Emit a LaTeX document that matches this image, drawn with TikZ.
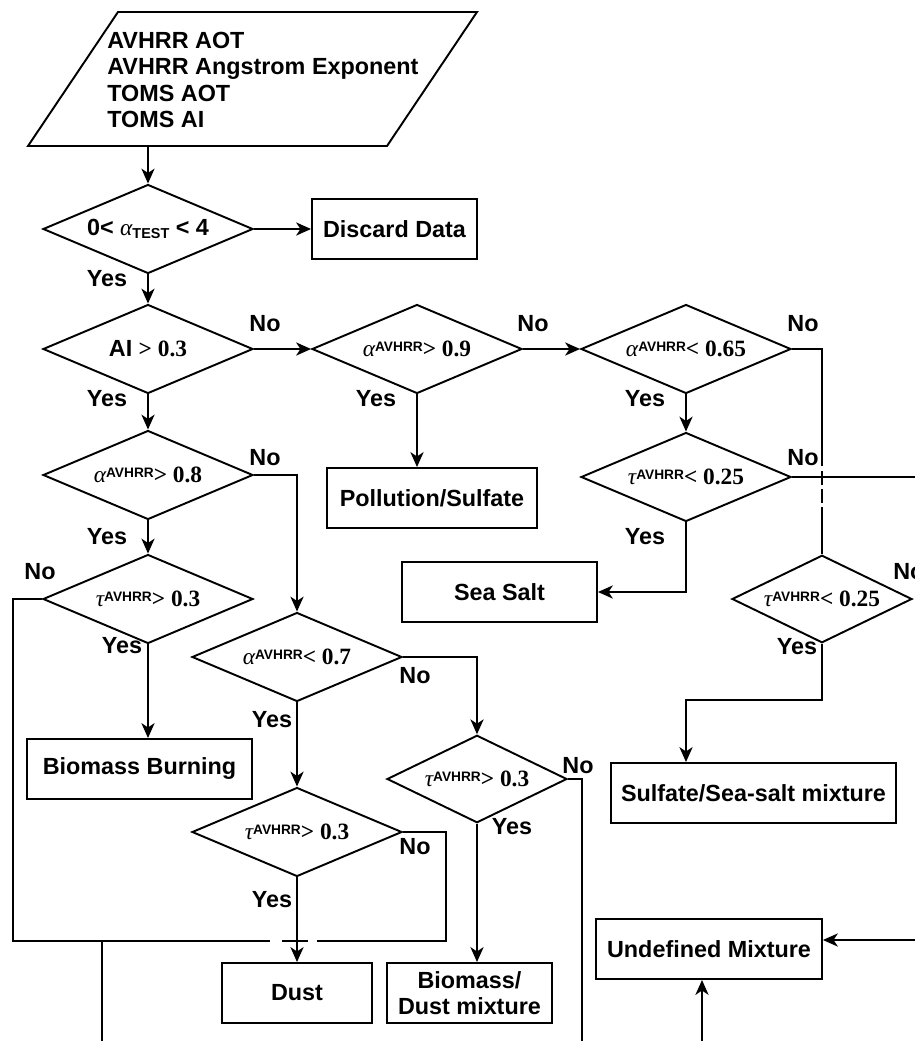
\documentclass[tikz,border=0pt]{standalone}
\usepackage{fontspec}
\setmainfont{Liberation Sans}
\newfontfamily\serf{Liberation Serif}
\usetikzlibrary{shapes.geometric,arrows.meta}
\newcommand{\gr}[1]{{\serf\mdseries\itshape #1}}
\newcommand{\nm}[1]{{\serf #1}}
\newcommand{\av}{\raisebox{3pt}{\fontsize{7.8}{8}\selectfont AVHRR}}
\newcommand{\tst}{\raisebox{-1.5pt}{\fontsize{8.2}{9}\selectfont TEST}}
\tikzset{
    dec/.style={diamond, draw, line width=1.1pt, aspect=2.36, inner sep=0pt, minimum width=4.2cm, minimum height=1.78cm},
    decn/.style={dec, aspect=2.05, minimum width=3.6cm, minimum height=1.75cm},
    res/.style={draw, line width=1.1pt, minimum height=1.2cm, align=center},
    lab/.style={inner sep=0pt},
    flow/.style={line width=1.1pt},
    arr/.style={flow, -{Stealth[length=8.5pt, width=7.5pt, inset=2.5pt]}}
}

\begin{document}
\begin{tikzpicture}[x=0.02cm, y=-0.02cm, font=\fontsize{13.3}{15.1}\selectfont\bfseries]
                \useasboundingbox (0,0) rectangle (915,1041);

                \draw[flow] (118,12) -- (477,12) -- (387,146) -- (28,146) -- cycle;
                \node[lab, anchor=west, align=left] (inp) at (107,80) {AVHRR AOT\\AVHRR Angstrom Exponent\\TOMS AOT\\TOMS AI};
                \coordinate (inb) at (148,146);

                \node[dec] (d1) at (148,229) {0< \gr{α}\tst{} < 4};
                \node[dec] (d2) at (148,349) {AI \nm{> 0.3}};
                \node[dec] (d3) at (417,349) {\gr{α}\av\nm{> 0.9}};
                \node[dec] (d4) at (686,349) {\gr{α}\av\nm{< 0.65}};
                \node[dec] (d5) at (148,475) {\gr{α}\av\nm{> 0.8}};
                \node[dec] (d6) at (686,477) {\gr{τ}\av\nm{< 0.25}};
                \node[dec] (d7) at (148,599) {\gr{τ}\av\nm{> 0.3}};
                \node[dec] (d8) at (297,657) {\gr{α}\av\nm{< 0.7}};
                \node[dec] (d9) at (297,832) {\gr{τ}\av\nm{> 0.3}};
                \node[decn] (d10) at (477,779) {\gr{τ}\av\nm{> 0.3}};
                \node[decn] (d11) at (822,599) {\gr{τ}\av\nm{< 0.25}};

                \node[res, minimum width=3.3cm] (disc) at (394.5,229) {Discard Data};
                \node[res, minimum width=4.2cm] (poll) at (432,498) {Pollution/Sulfate};
                \node[res, minimum width=3.9cm] (sea) at (499.5,592) {Sea Salt};
                \node[res, minimum width=4.5cm] (bb) at (139.5,769) {Biomass Burning};
                \node[res, minimum width=3cm] (dust) at (297,993) {Dust};
                \node[res, minimum width=3.3cm, inner ysep=1.5pt] (bdm) at (469.5,993) {Biomass/\\Dust mixture};
                \node[res, minimum width=5.7cm] (ssm) at (753.5,793) {Sulfate/Sea-salt mixture};
                \node[res, minimum width=4.52cm] (und) at (709,949) {Undefined Mixture};

                \coordinate (ja) at (822,466);
                \coordinate (jb) at (822,471);
                \coordinate (jc) at (822,503);
                \coordinate (jd) at (822,507);
                \coordinate (ea) at (918,477);
                \coordinate (kb) at (822,700);
                \coordinate (lc) at (13,941);
                \coordinate (ga) at (270,941);
                \coordinate (gb) at (282,941);
                \coordinate (gc) at (308,941);
                \coordinate (gd) at (317,941);
                \coordinate (rc) at (446,941);
                \coordinate (st) at (102,941);
                \coordinate (sb) at (102,1045);
                \coordinate (eb) at (582,1045);
                \coordinate (ec) at (918,940);
                \coordinate (ed) at (702,1045);

                \draw[arr] (inb) -- (d1.north);
                \draw[arr] (d1.east) -- (disc.west);
                \draw[arr] (d1.south) -- (d2.north);
                \draw[arr] (d2.east) -- (d3.west);
                \draw[arr] (d2.south) -- (d5.north);
                \draw[arr] (d3.east) -- (d4.west);
                \draw[arr] (d3.south) -- (d3.south |- poll.north);
                \draw[arr] (d4.south) -- (d6.north);
                \draw[flow] (d4.east) -| (ja);
                \draw[flow, dash pattern=on 0.28cm off 0.07cm] (jb) -- (jc);
                \draw[flow] (jd) -- (d11.north);
                \draw[flow] (d6.east) -- (ea);
                \draw[arr] (d6.south) |- (sea.east);
                \draw[arr] (d5.south) -- (d7.north);
                \draw[arr] (d5.east) -| (d8.north);
                \draw[arr] (d7.south) -- (d7.south |- bb.north);
                \draw[flow] (d7.west) -| (lc) -- (ga);
                \draw[flow] (gb) -- (gc);
                \draw[flow] (gd) -- (rc) |- (d9.east);
                \draw[flow] (st) -- (sb);
                \draw[arr] (d8.south) -- (d9.north);
                \draw[arr] (d8.east) -| (d10.north);
                \draw[arr] (d9.south) -- (dust.north);
                \draw[arr] (d10.south) -- (d10.south |- bdm.north);
                \draw[flow] (d10.east) -| (eb);
                \draw[arr] (d11.south) -- (kb) -| (d6.south |- ssm.north);
                \draw[arr] (ec) -- (ec -| und.east);
                \draw[arr] (ed) -- (ed |- und.south);

                \node[lab] (y1) at (107,279) {Yes};
                \node[lab] (y2) at (107,399) {Yes};
                \node[lab] (y3) at (376,399) {Yes};
                \node[lab] (y4) at (645,399) {Yes};
                \node[lab] (y5) at (107,537) {Yes};
                \node[lab] (y6) at (645,537) {Yes};
                \node[lab] (y7) at (122,646) {Yes};
                \node[lab] (y8) at (272,720) {Yes};
                \node[lab] (y9) at (272,900) {Yes};
                \node[lab] (y10) at (512,827) {Yes};
                \node[lab] (y11) at (797,647) {Yes};

                \node[lab] (n1) at (265,324) {No};
                \node[lab] (n2) at (533,324) {No};
                \node[lab] (n3) at (803,324) {No};
                \node[lab] (n4) at (265,458) {No};
                \node[lab] (n5) at (803,458) {No};
                \node[lab] (n6) at (40,572) {No};
                \node[lab] (n7) at (415,676) {No};
                \node[lab] (n8) at (415,847) {No};
                \node[lab] (n9) at (578,766) {No};
                \node[lab, anchor=west] (n10) at (893,572) {No};
\end{tikzpicture}
\end{document}
